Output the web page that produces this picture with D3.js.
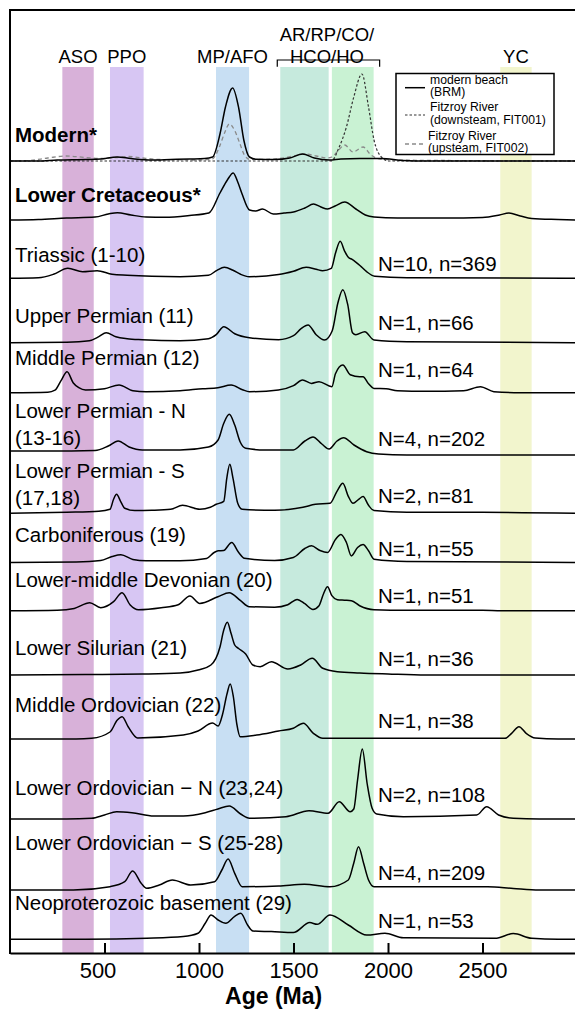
<!DOCTYPE html>
<html>
<head>
<meta charset="utf-8">
<script src="https://cdn.jsdelivr.net/npm/d3@7"></script>
<style>
  body { margin: 0; background: #fff; }
  svg { display: block; font-family: 'Liberation Sans', Arial, Helvetica, sans-serif; }
</style>
</head>
<body>
<svg id="chart" width="575" height="1011"></svg>
<script>
// ---- data (age in Ma, relative probability) ----
const ageTicks = [500, 1000, 1500, 2000, 2500]

const bandNames = ['ASO', 'PPO', 'MP/AFO', 'AR/RP', 'CO/HCO/HO', 'YC']
const bandFrom = [277, 529, 1090, 1430, 1703, 2594]
const bandTo = [443, 707, 1265, 1686, 1924, 2760]

const topLabels = [['ASO'], ['PPO'], ['MP/AFO'], ['AR/RP/CO/', 'HCO/HO'], ['YC']]
const topLabelBands = [[0], [1], [2], [3, 4], [5]]

const rowNames = [
  ['Modern*'], ['Lower Cretaceous*'], ['Triassic (1-10)'], ['Upper Permian (11)'],
  ['Middle Permian (12)'], ['Lower Permian - N', '(13-16)'], ['Lower Permian - S', '(17,18)'],
  ['Carboniferous (19)'], ['Lower-middle Devonian (20)'], ['Lower Silurian (21)'],
  ['Middle Ordovician (22)'], ['Lower Ordovician \u2212 N (23,24)'], ['Lower Ordovician \u2212 S (25-28)'],
  ['Neoproterozoic basement (29)']
]
const rowCounts = ['', '', 'N=10, n=369', 'N=1, n=66', 'N=1, n=64', 'N=4, n=202', 'N=2, n=81',
  'N=1, n=55', 'N=1, n=51', 'N=1, n=36', 'N=1, n=38', 'N=2, n=108', 'N=4, n=209', 'N=1, n=53']

// modern samples
const modernBRM = [[0,0],[150,0],[250,1],[400,1.5],[480,2],[567,4],[640,2.5],[750,1],[850,1.5],[950,2],[1030,2.5],[1072,4],[1111,27],[1140,54],[1178,73],[1210,53],[1237,21],[1267,4],[1305,1.7],[1400,1.5],[1480,3],[1548,7],[1610,3],[1690,1],[1750,2],[1850,2.5],[1965,2.5],[2080,0.5],[2200,0],[3000,0]]
const modernFIT001 = [[0,0],[1700,0],[1742,14],[1780,34],[1819,64],[1862,87],[1897,54],[1926,21],[1965,4],[2003,0],[3000,0]]
const modernFIT002 = [[0,0],[100,0.5],[200,3],[296,5],[400,3.5],[480,2.5],[560,3.5],[626,4.5],[700,3],[800,1.5],[1000,1],[1070,2],[1110,15],[1135,28],[1160,37],[1190,30],[1215,18],[1240,6],[1270,1.5],[1400,2],[1500,5],[1560,7],[1620,5],[1680,3],[1703,4],[1735,10],[1771,16],[1815,9],[1868,14],[1910,6],[1960,2],[2050,1],[2300,0.5],[3000,0]]

const lowerCretaceous = [[0,0],[150,0.5],[300,2],[450,3],[520,6],[568,7.3],[640,5],[720,3],[820,2.7],[950,4.5],[1052,7],[1111,27],[1150,40],[1181,47],[1205,38],[1228,26],[1267,10],[1300,9],[1336,11],[1393,6],[1450,7],[1500,8],[1560,12],[1606,16],[1645,13],[1680,11],[1720,14],[1771,18],[1830,11],[1880,5],[1926,3],[2050,2],[2300,2],[2500,2.5],[2590,5],[2640,7],[2700,4],[2760,1.5],[2900,0.5],[3000,0]]
const triassic = [[0,0],[150,0.5],[230,4],[306,10],[384,6.6],[461,7.6],[540,4],[620,3],[750,2],[900,1.6],[1050,3],[1095,8],[1134,11],[1180,8],[1220,4],[1266,1.6],[1421,3.7],[1500,7],[1567,11],[1620,9],[1654,7.6],[1700,10],[1722,25],[1747,37],[1771,27],[1790,21],[1810,19],[1858,11.7],[1887,6.6],[1930,2],[2100,0.5],[3000,0]]
const upperPermian = [[0,0],[300,0.5],[420,2],[470,6],[509,10],[560,6],[620,4],[700,3],[900,2],[1050,4],[1091,8],[1131,16],[1189,9],[1267,5],[1421,3],[1500,7],[1540,14],[1577,17.7],[1620,8],[1664,2.7],[1705,12],[1735,40],[1761,53],[1787,38],[1812,10],[1830,8],[1877,11],[1926,2.7],[2100,1],[3000,0]]
const middlePermian = [[0,0],[200,0.5],[238,2.5],[270,12],[302,21],[334,10],[364,5],[400,2.7],[500,4],[577,7.7],[650,2],[720,1],[900,2],[1020,4],[1100,5],[1170,7.7],[1230,3],[1267,1],[1420,2.7],[1500,7],[1548,12.7],[1595,9.3],[1635,11],[1703,6],[1722,19],[1761,27.7],[1800,18],[1850,16],[1868,16],[1897,9],[1926,4.3],[1990,4],[2050,2],[2200,1.5],[2400,2],[2489,6],[2560,1],[2700,0],[3000,0]]
const lowerPermianN = [[0,4],[200,4],[450,4.5],[520,9],[572,14],[630,8],[700,5],[900,5],[1050,8],[1101,15],[1131,31.7],[1160,40.7],[1189,30],[1218,13],[1247,6.7],[1350,5],[1499,5],[1560,14],[1603,18],[1650,11],[1688,6],[1730,14],[1765,17.3],[1820,10],[1887,3.3],[1950,1],[2100,0],[3000,0]]
const lowerPermianS = [[0,0],[300,1],[470,2],[529,4],[548,14],[564,19],[585,12],[607,5],[660,2.7],[750,3],[850,4],[913,8],[1004,4],[1060,6],[1091,9],[1131,12],[1147,35],[1163,49],[1180,35],[1205,10],[1228,4],[1400,3],[1550,6],[1616,9],[1693,10],[1730,22],[1761,30],[1790,17],[1815,10],[1845,14],[1868,16.7],[1897,8],[1926,2.7],[2100,1],[2500,1],[3000,0]]
const carboniferous = [[0,0],[350,0.5],[480,2],[540,6],[587,7.7],[650,3],[720,1.7],[900,1.7],[1040,4],[1080,10],[1101,11.7],[1130,12],[1173,20],[1210,10],[1240,4.3],[1400,2],[1499,5],[1560,14],[1595,16.7],[1640,12],[1680,10],[1722,23],[1751,28],[1780,20],[1806,6.6],[1839,15],[1868,18],[1897,11.7],[1926,3.3],[2100,1],[3000,0]]
const devonian = [[0,0],[250,0.5],[340,2.3],[422,8],[480,3],[548,9],[593,18],[636,5.7],[680,1],[800,3],[890,6],[952,14.7],[1004,7.3],[1100,14],[1160,18],[1220,10],[1266,4],[1400,3.5],[1470,6],[1519,11.3],[1560,7],[1603,1.3],[1635,5],[1659,17],[1680,24],[1703,15],[1732,11],[1770,10.5],[1806,10],[1850,5],[1926,1],[2100,0.5],[2500,0.5],[2600,0],[3000,0]]
const silurian = [[0,0],[400,0.5],[700,1],[900,2],[995,5],[1063,10],[1111,28],[1131,45],[1150,52.7],[1169,42],[1189,30],[1208,26.7],[1247,21],[1285,10],[1324,8.3],[1383,13.3],[1470,6],[1538,10],[1599,16.7],[1655,6.7],[1732,3.3],[1850,2],[2000,1],[2200,0],[3000,0]]
const midOrdovician = [[0,0],[350,0],[432,0.7],[529,7],[568,19],[593,22.3],[626,12],[675,1],[917,4],[995,8],[1072,16],[1101,13],[1125,25],[1148,45],[1165,55],[1182,42],[1200,15],[1218,2.3],[1305,4],[1421,8],[1499,10.7],[1552,15.7],[1605,5.7],[1655,0.7],[2620,0.7],[2654,5.7],[2693,12.3],[2731,5.7],[2779,1],[2900,0],[3000,0]]
const lowOrdovicianN = [[0,0],[300,0],[432,0.7],[500,4],[564,7.3],[645,6.3],[761,3],[917,3],[1033,6.3],[1100,10],[1160,13],[1220,5],[1267,0.7],[1460,2.3],[1582,8.3],[1683,5.7],[1742,17.3],[1800,7.3],[1819,10],[1839,39],[1864,70],[1890,35],[1916,10.7],[1940,5],[2081,2.3],[2469,4],[2522,12.3],[2585,4],[2663,0.7],[2800,0],[3000,0]]
const lowOrdovicianS = [[0,0],[335,0],[529,3.3],[607,8.3],[649,19],[694,6.7],[723,1.7],[790,5],[859,10],[956,5],[1082,8.3],[1121,20],[1154,31],[1189,16.7],[1228,3.3],[1421,4],[1557,5.7],[1693,3.3],[1790,10],[1819,27],[1844,43.3],[1871,26.7],[1897,10],[1926,3.3],[2528,3.3],[2663,1.5],[2800,0],[3000,0]]
const neoproterozoic = [[0,0],[400,0],[723,1],[917,2.7],[995,6],[1033,16],[1064,24.3],[1101,19.3],[1142,16],[1189,23],[1221,26],[1257,14.3],[1285,8.3],[1383,7.7],[1499,6.7],[1586,16.7],[1625,15],[1693,24.3],[1790,14.3],[1887,4.3],[1984,6],[2081,1.5],[2567,1],[2663,5.7],[2760,1],[2900,0],[3000,0]]

const rowCurves = [
  [modernFIT002, modernFIT001, modernBRM], [lowerCretaceous], [triassic], [upperPermian],
  [middlePermian], [lowerPermianN], [lowerPermianS], [carboniferous], [devonian],
  [silurian], [midOrdovician], [lowOrdovicianN], [lowOrdovicianS], [neoproterozoic]
]

const legendNames = [['modern beach', '(BRM)'], ['Fitzroy River', '(downsteam, FIT001)'], ['Fitzroy River', '(upsteam, FIT002)']]

// ---- layout ----
const width = 575
const marginLeft = 10
const marginTop = 10
const axisY = 953
const bandTop = 67
const rowBase = [161, 220, 278.3, 342.7, 392.7, 455, 513.3, 562.5, 610.7, 675, 739, 819, 890, 939.3]
const rowLabelY = [141.7, 201.5, 262.3, 323, 365, 418.3, 478.3, 541.7, 587.3, 655, 711.7, 795, 850, 910]
const rowCountY = [0, 0, 270.7, 330, 377, 446, 503.3, 556, 603.3, 665.7, 728.3, 802.3, 880, 927.7]
const bandColors = ['#d8b1d9', '#d7c6f3', '#c8dff3', '#c6eadd', '#c9f2d3', '#f2f5cd']
const curveStyles = [
  { stroke: '#8a8a8a', dash: '4,3', width: 1.3 },
  { stroke: '#333', dash: '2.5,2', width: 1.2 },
  { stroke: '#000', dash: null, width: 1.5 }
]

const svg = d3.select('#chart')

const x = d3.scaleLinear().domain([0, 3000]).range([marginLeft, 577])
const h = d3.scaleLinear().domain([0, 100]).range([0, 100])

// Bands
svg.append('g')
  .selectAll('rect')
  .data(bandNames)
  .join('rect')
  .attr('x', (d, i) => x(bandFrom[i]))
  .attr('y', bandTop)
  .attr('width', (d, i) => x(bandTo[i]) - x(bandFrom[i]))
  .attr('height', axisY - bandTop)
  .attr('fill', (d, i) => bandColors[i])

// Band labels
topLabels.forEach((lines, i) => {
  const idx = topLabelBands[i]
  const cx = (x(bandFrom[idx[0]]) + x(bandTo[idx[idx.length - 1]])) / 2
  const t = svg.append('text')
    .attr('x', cx)
    .attr('text-anchor', 'middle')
    .style('font-size', '18.5px')
  lines.forEach((line, j) => {
    t.append('tspan')
      .attr('x', cx)
      .attr('y', 63.3 - (lines.length - 1 - j) * 22.6)
      .text(line)
  })
  if (idx.length > 1) {
    const x0 = x(bandFrom[idx[0]]) - 3
    const x1 = x(bandTo[idx[idx.length - 1]]) + 6
    svg.append('path')
      .attr('d', `M${x0},66.7V60H${x1}V66.7`)
      .attr('fill', 'none')
      .attr('stroke', '#000')
      .attr('stroke-width', 1.2)
  }
})

// Curves
const line = d3.line()
  .x(d => x(d[0]))
  .curve(d3.curveMonotoneX)

rowCurves.forEach((curves, r) => {
  curves.forEach((pts, k) => {
    const st = curves.length > 1 ? curveStyles[k] : curveStyles[2]
    svg.append('path')
      .datum(pts)
      .attr('d', line.y(d => rowBase[r] - h(d[1])))
      .attr('fill', 'none')
      .attr('stroke', st.stroke)
      .attr('stroke-width', st.width)
      .attr('stroke-dasharray', st.dash)
  })
})

// Row labels
rowNames.forEach((lines, r) => {
  const t = svg.append('text')
    .style('font-size', '20.5px')
    .style('font-weight', r < 2 ? 'bold' : 'normal')
  lines.forEach((line, j) => {
    t.append('tspan')
      .attr('x', 15)
      .attr('y', rowLabelY[r] + j * 26.7)
      .text(line)
  })
  if (rowCounts[r]) {
    svg.append('text')
      .attr('x', 378)
      .attr('y', rowCountY[r])
      .style('font-size', '20.5px')
      .text(rowCounts[r])
  }
})

// Legend
const legend = svg.append('g')
legend.append('rect')
  .attr('x', 396).attr('y', 73.5)
  .attr('width', 158).attr('height', 81)
  .attr('fill', '#fff')
  .attr('stroke', '#000')
  .attr('stroke-width', 1.5)

const legendY = [87.7, 115, 144]
const legendTextY = [84, 111.2, 139.5]
const legendStyles = [curveStyles[2], curveStyles[1], curveStyles[0]]
legendNames.forEach((lines, i) => {
  const st = legendStyles[i]
  legend.append('line')
    .attr('x1', 405).attr('x2', 425)
    .attr('y1', legendY[i]).attr('y2', legendY[i])
    .attr('stroke', st.stroke)
    .attr('stroke-width', st.width)
    .attr('stroke-dasharray', st.dash)
  lines.forEach((line, j) => {
    legend.append('text')
      .style('font-size', '12.2px')
      .attr('x', i === 2 ? 428 : 430)
      .attr('y', legendTextY[i] + j * 12.4)
      .text(line)
  })
})

// Frame: top and left
svg.append('line')
  .attr('x1', marginLeft).attr('x2', width + 2)
  .attr('y1', marginTop).attr('y2', marginTop)
  .attr('stroke', '#000').attr('stroke-width', 2)
svg.append('line')
  .attr('x1', marginLeft).attr('x2', marginLeft)
  .attr('y1', marginTop - 1).attr('y2', axisY + 1)
  .attr('stroke', '#000').attr('stroke-width', 2)

// Axis
const xAxis = d3.axisBottom(x)
  .tickValues(ageTicks)
  .tickFormat(d3.format('d'))
  .tickSize(-10)
  .tickSizeOuter(0)
  .tickPadding(9.6)

const axisG = svg.append('g')
  .attr('transform', `translate(0,${axisY})`)
  .call(xAxis)
axisG.select('.domain').attr('stroke-width', 2.2)
axisG.selectAll('.tick line').attr('stroke-width', 2)
axisG.selectAll('.tick text')
  .style('font-size', '22px')
  .style('font-family', "'Liberation Sans', Arial, sans-serif")
  .attr('fill', '#000')
  .attr('dx', d => d === 500 ? -7 : 0)

svg.append('text')
  .attr('x', x(1395))
  .attr('y', 1003.5)
  .attr('text-anchor', 'middle')
  .style('font-size', '23px')
  .style('font-weight', 'bold')
  .text('Age (Ma)')
</script>
</body>
</html>
